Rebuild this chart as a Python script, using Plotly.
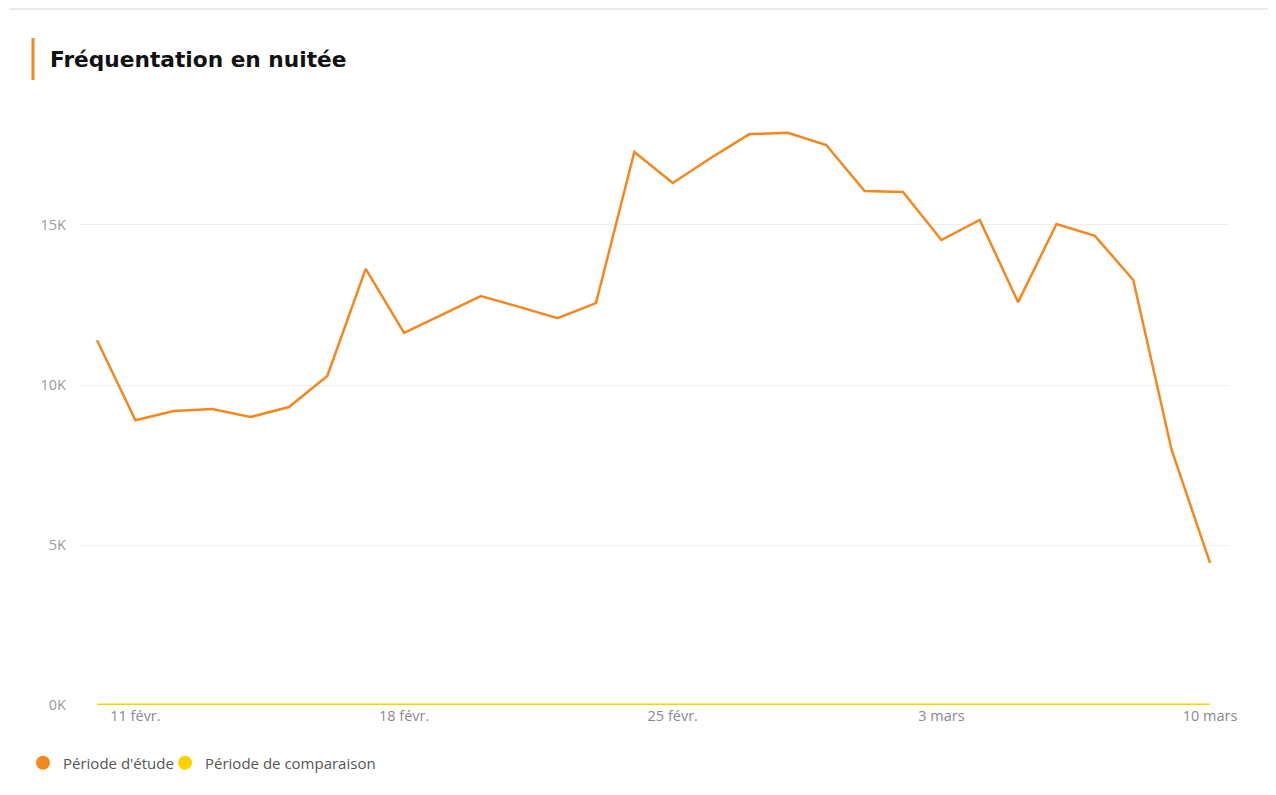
import plotly.graph_objects as go
import pandas as pd

dates = pd.date_range("2024-02-10", "2024-03-10", freq="D")
etude = [11400, 8900, 9190, 9250, 9000, 9310, 10280, 13630, 11630, 12200,
         12780, 12440, 12090, 12560, 17280, 16310, 17100, 17840, 17880, 17500,
         16060, 16030, 14530, 15160, 12590, 15030, 14660, 13280, 7970, 4440]
comparaison = [0] * len(dates)

ytick_vals = [0, 5000, 10000, 15000]
ytick_text = ["0K", "5K", "10K", "15K"]
xtick_vals = ["2024-02-11", "2024-02-18", "2024-02-25", "2024-03-03", "2024-03-10"]
xtick_text = ["11 févr.", "18 févr.", "25 févr.", "3 mars", "10 mars"]

ORANGE = "#F5871F"
YELLOW = "#FFD100"

OFF = 8  # page body margin
W, H = 1276 - OFF, 795 - OFF
L, R, T, B = 72, 48, 92, 90
pw, ph = W - L - R, H - T - B

def px2x(px):
    return (px - OFF - L) / pw

def px2y(py):
    return (H - B - (py - OFF)) / ph

def cx(px):
    return (px - OFF) / W

def cy(py):
    return 1 - (py - OFF) / H

fig = go.Figure()
fig.add_trace(go.Scatter(x=dates, y=comparaison, mode="lines",
                         line=dict(color=YELLOW, width=3), showlegend=False,
                         name="Période de comparaison"))
fig.add_trace(go.Scatter(x=dates, y=etude, mode="lines",
                         line=dict(color=ORANGE, width=2.5), showlegend=False,
                         name="Période d'étude"))
# legend entries
fig.add_trace(go.Scatter(x=[None], y=[None], mode="markers",
                         marker=dict(color=ORANGE, size=14, symbol="circle"),
                         name="Période d'étude", legend="legend"))
fig.add_trace(go.Scatter(x=[None], y=[None], mode="markers",
                         marker=dict(color=YELLOW, size=14, symbol="circle"),
                         name="Période de comparaison", legend="legend2"))

legend_common = dict(orientation="h", xref="container", yref="container",
                     xanchor="left", yanchor="middle", bgcolor="rgba(0,0,0,0)",
                     font=dict(family="Open Sans, sans-serif", size=15, color="#555555"),
                     itemwidth=30)

fig.update_layout(
    width=W, height=H,
    margin=dict(l=L, r=R, t=T, b=B),
    paper_bgcolor="white", plot_bgcolor="white",
    font=dict(family="Open Sans, sans-serif", color="#888888", size=14),
    title=dict(text="<b>Fréquentation en nuitée</b>", x=cx(50), xanchor="left",
               y=cy(59), yanchor="middle", xref="container", yref="container",
               font=dict(family="DejaVu Sans, sans-serif", size=21.7, color="#111111")),
    showlegend=True,
    legend=dict(x=cx(23), y=cy(763), **legend_common),
    legend2=dict(x=cx(165), y=cy(763), **legend_common),
    xaxis=dict(range=[pd.Timestamp("2024-02-09 13:20"), pd.Timestamp("2024-03-10 11:15")],
               tickvals=xtick_vals, ticktext=xtick_text, showgrid=False, zeroline=False,
               showline=False, ticks="", tickfont=dict(size=14.5, color="#8A8A8A")),
    yaxis=dict(range=[0, 18906], tickvals=ytick_vals, ticktext=ytick_text,
               showgrid=True, gridcolor="#EEEEEE", gridwidth=1, zeroline=False,
               showline=False, ticks="", ticklabelstandoff=13,
               tickfont=dict(size=14.5, color="#9A9A9A")),
    shapes=[
        dict(type="line", xref="paper", yref="paper",
             x0=px2x(33), x1=px2x(33), y0=px2y(38), y1=px2y(80),
             line=dict(color=ORANGE, width=3)),
        dict(type="line", xref="paper", yref="paper",
             x0=px2x(9), x1=px2x(1271), y0=px2y(9), y1=px2y(9),
             line=dict(color="#EAEAEA", width=2)),
    ],
)

fig.write_html("out.html")
